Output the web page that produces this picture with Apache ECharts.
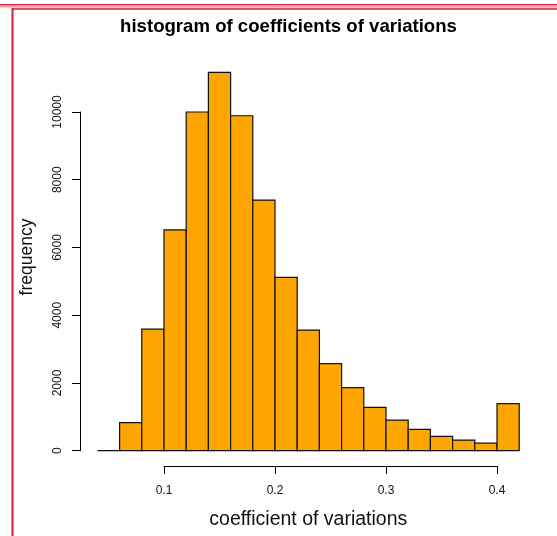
<!DOCTYPE html>
<html>
<head>
<meta charset="utf-8">
<script src="https://cdn.jsdelivr.net/npm/echarts@6/dist/echarts.min.js"></script>
<style>
  html, body { margin: 0; padding: 0; background: #fff; }
  #chart { width: 557px; height: 536px; }
</style>
</head>
<body>
<div id="chart"></div>
<script>
// Histogram bins (edges) and the count in each bin
const binEdges = [0.04, 0.06, 0.08, 0.10, 0.12, 0.14, 0.16, 0.18, 0.20, 0.22,
                  0.24, 0.26, 0.28, 0.30, 0.32, 0.34, 0.36, 0.38, 0.40, 0.42];
const counts = [0, 830, 3590, 6520, 10000, 11170, 9890, 7400, 5120, 3560,
                2570, 1860, 1280, 900, 630, 425, 315, 225, 1390];

// Tick ranges shown on the axes
const xTickRange = { min: 0.1, max: 0.4, step: 0.1 };
const yTickRange = { min: 0, max: 10000, step: 2000 };

const titleText = 'histogram of coefficients of variations';
const xName = 'coefficient of variations';
const yName = 'frequency';

// Layout: pixel scale shared by the plot and the two axis strips
const xLo = binEdges[0], xHi = binEdges[binEdges.length - 1];
const plotLeft = 97.4, pxPerX = 1110;
const baseY = 450.7, pxPerY = 0.03387;
const yTop = 12000;

const plotWidth = (xHi - xLo) * pxPerX;
const plotTop = baseY - yTop * pxPerY;
const xAxisLeft = plotLeft + (xTickRange.min - xLo) * pxPerX;
const xAxisWidth = (xTickRange.max - xTickRange.min) * pxPerX;
const yAxisTop = baseY - yTickRange.max * pxPerY;
const yAxisHeight = (yTickRange.max - yTickRange.min) * pxPerY;

const FONT = '"Liberation Sans", Arial, sans-serif';
const INK = '#111';

const chart = echarts.init(document.getElementById('chart'), null, { renderer: 'canvas' });

const hidden = { show: false };

chart.setOption({
  animation: false,
  backgroundColor: '#fff',
  title: {
    text: titleText,
    left: 283.5,
    top: 12,
    textAlign: 'center',
    textStyle: { fontFamily: FONT, fontWeight: 'bold', fontSize: 18.6, color: '#000' }
  },
  grid: [
    { left: plotLeft, top: plotTop, width: plotWidth, height: baseY - plotTop },
    { left: xAxisLeft, top: 430, width: xAxisWidth, height: 466 - 430 },
    { left: 80, top: yAxisTop, width: 10, height: yAxisHeight }
  ],
  xAxis: [
    {
      gridIndex: 0, type: 'value', min: xLo, max: xHi,
      axisLine: hidden, axisTick: hidden, axisLabel: hidden, splitLine: hidden,
      name: xName, nameLocation: 'middle', nameGap: 59,
      nameTextStyle: { fontFamily: FONT, fontSize: 19.5, color: INK }
    },
    {
      gridIndex: 1, type: 'value', position: 'bottom',
      min: xTickRange.min, max: xTickRange.max, interval: xTickRange.step,
      axisLine: { show: true, lineStyle: { color: '#000', width: 1 } },
      axisTick: { show: true, length: 8, lineStyle: { color: '#000', width: 1 } },
      axisLabel: { show: true, margin: 19, fontFamily: FONT, fontSize: 12, color: INK,
                   formatter: v => String(Math.round(v * 10) / 10) },
      splitLine: hidden
    },
    { gridIndex: 2, type: 'value', show: false }
  ],
  yAxis: [
    {
      gridIndex: 0, type: 'value', min: 0, max: yTop,
      axisLine: hidden, axisTick: hidden, axisLabel: hidden, splitLine: hidden
    },
    { gridIndex: 1, type: 'value', show: false },
    {
      gridIndex: 2, type: 'value', position: 'left',
      min: yTickRange.min, max: yTickRange.max, interval: yTickRange.step,
      axisLine: { show: true, lineStyle: { color: '#000', width: 1 } },
      axisTick: { show: true, length: 8, lineStyle: { color: '#000', width: 1 } },
      axisLabel: { show: true, rotate: 90, margin: 16, fontFamily: FONT, fontSize: 12, color: INK,
                   formatter: v => String(v) },
      splitLine: hidden
    }
  ],
  series: [{
    type: 'custom',
    xAxisIndex: 0,
    yAxisIndex: 0,
    encode: { x: [0, 1], y: 2 },
    data: counts.map((c, i) => [binEdges[i], binEdges[i + 1], c]),
    renderItem: (params, api) => {
      const topLeft = api.coord([api.value(0), api.value(2)]);
      const bottomRight = api.coord([api.value(1), 0]);
      return {
        type: 'rect',
        shape: {
          x: topLeft[0], y: topLeft[1],
          width: bottomRight[0] - topLeft[0],
          height: bottomRight[1] - topLeft[1]
        },
        style: { fill: '#FFA500', stroke: '#111', lineWidth: 1.2 }
      };
    }
  }],
  graphic: [
    // y-axis title, rotated to read upwards
    {
      type: 'text', x: 27, y: 257, rotation: Math.PI / 2, silent: true,
      style: { text: yName, font: '17.5px ' + FONT, fill: INK, align: 'center', verticalAlign: 'middle' }
    },
    // Red page frame
    { type: 'rect', shape: { x: 0, y: 4, width: 557, height: 3.5 }, style: { fill: '#eb9aa8' }, silent: true },
    { type: 'rect', shape: { x: 12, y: 7, width: 545, height: 2 }, style: { fill: '#f2c2ca' }, silent: true },
    { type: 'line', shape: { x1: 0, y1: 4.5, x2: 557, y2: 4.5 }, style: { stroke: '#d4263f', lineWidth: 1 }, silent: true },
    { type: 'line', shape: { x1: 12, y1: 9, x2: 557, y2: 9 }, style: { stroke: '#d4263f', lineWidth: 1.5 }, silent: true },
    { type: 'line', shape: { x1: 12.5, y1: 8, x2: 12.5, y2: 536 }, style: { stroke: '#d01c3a', lineWidth: 2 }, silent: true }
  ]
});
</script>
</body>
</html>
